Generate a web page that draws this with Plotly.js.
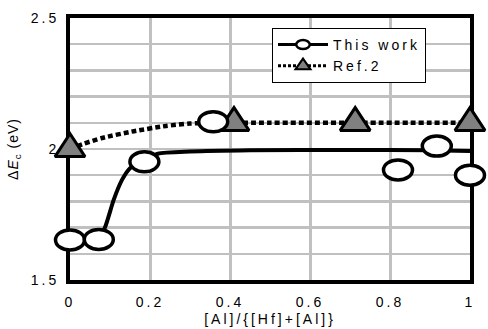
<!DOCTYPE html>
<html>
<head>
<meta charset="utf-8">
<script src="https://cdn.plot.ly/plotly-3.0.1.min.js"></script>
<style>
  html, body { margin: 0; padding: 0; background: #fff; }
  #chart { width: 488px; height: 329px; }
  svg text { letter-spacing: 3px; }
  svg text.ytitle { letter-spacing: 1px; }
</style>
</head>
<body>
<div id="chart"></div>
<script>
// ---- data ----
const xWork = [0, 0.072, 0.186, 0.358, 0.82, 0.917, 1.0];
const yWork = [1.653, 1.655, 1.951, 2.104, 1.92, 2.011, 1.90];
// fitted curve drawn through "This work"
const xWorkFit = [0, 0.07, 0.088, 0.109, 0.13, 0.15, 0.186, 0.22, 0.3, 0.45, 0.7, 0.9, 1.0];
const yWorkFit = [1.653, 1.655, 1.703, 1.805, 1.882, 1.927, 1.955, 1.982, 1.99, 1.995, 1.996, 1.995, 1.992];

const xRef = [0, 0.41, 0.713, 1.0];
const yRef = [2.0, 2.1, 2.1, 2.1];
// fitted curve drawn through "Ref.2"
const xRefFit = [0, 0.03, 0.08, 0.16, 0.24, 0.3, 0.36, 0.5, 0.7, 1.0];
const yRefFit = [2.0, 2.018, 2.042, 2.068, 2.088, 2.097, 2.1, 2.1, 2.1, 2.1];

const seriesNames = ['This work', 'Ref.2'];
const xTicks = [0, 0.2, 0.4, 0.6, 0.8, 1];
const xTickText = ['0', '0.2', '0.4', '0.6', '0.8', '1'];
const yTicks = [1.5, 2, 2.5];
const yTickText = ['1.5', '2', '2.5'];

const FONT = 'Liberation Sans, Arial, sans-serif';

const traces = [
  // legend-only entries
  { x: [null], y: [null], name: seriesNames[0], type: 'scatter', mode: 'lines+markers',
    line: { color: '#000', width: 3 },
    marker: { symbol: 'circle', size: 9, color: '#fff', line: { color: '#000', width: 2.5 } } },
  { x: [null], y: [null], name: seriesNames[1], type: 'scatter', mode: 'lines+markers',
    line: { color: '#000', width: 3, dash: '3px,2px' },
    marker: { symbol: 'triangle-up', size: 13, color: '#808080', line: { color: '#000', width: 2 } } },
  // Ref.2 curve + markers
  { x: xRefFit, y: yRefFit, type: 'scatter', mode: 'lines', showlegend: false, cliponaxis: false,
    line: { color: '#000', width: 4.5, dash: '5px,3px', shape: 'spline', smoothing: 0.6 }, hoverinfo: 'skip' },
  { x: xRef, y: yRef, type: 'scatter', mode: 'markers', showlegend: false, cliponaxis: false,
    marker: { symbol: 'triangle-up', size: 26, color: '#808080', line: { color: '#000', width: 3 } } },
  // This work curve + markers
  { x: xWorkFit, y: yWorkFit, type: 'scatter', mode: 'lines', showlegend: false, cliponaxis: false,
    line: { color: '#000', width: 4, shape: 'spline', smoothing: 0.6 }, hoverinfo: 'skip' },
  { x: xWork, y: yWork, type: 'scatter', mode: 'markers', showlegend: false, cliponaxis: false,
    marker: { symbol: 'circle', size: 20, color: '#fff', line: { color: '#000', width: 3.5 } } }
];

const layout = {
  width: 488, height: 329,
  margin: { l: 70, r: 18, t: 18, b: 49 },
  paper_bgcolor: '#fff', plot_bgcolor: '#fff',
  font: { family: FONT, size: 14, color: '#000' },
  showlegend: true,
  legend: {
    x: 0.505, y: 0.962, xanchor: 'left', yanchor: 'top',
    bgcolor: '#fff', bordercolor: '#000', borderwidth: 1,
    font: { family: FONT, size: 14, color: '#000' },
    tracegroupgap: 0, itemwidth: 50
  },
  xaxis: {
    range: [0, 1], tickvals: xTicks, ticktext: xTickText,
    showgrid: true, gridcolor: '#c0c0c0', gridwidth: 3,
    showline: true, linecolor: '#000', linewidth: 4, mirror: true,
    zeroline: false, ticks: '', ticklabelstandoff: 6,
    layer: 'below traces',
    title: { text: '[Al]/{[Hf]+[Al]}', font: { family: FONT, size: 14 }, standoff: 6 },
    automargin: false, fixedrange: true
  },
  yaxis: {
    range: [1.5, 2.5], tickvals: yTicks, ticktext: yTickText,
    showgrid: true, gridcolor: '#c0c0c0', gridwidth: 2.5,
    minor: { dtick: 0.1, showgrid: true, gridcolor: '#c0c0c0', gridwidth: 2.5 },
    showline: true, linecolor: '#000', linewidth: 4, mirror: true,
    zeroline: false, ticks: '', ticklabelstandoff: 4,
    layer: 'below traces',
    title: { text: 'Δ<i>E</i><sub>c</sub> (eV)', font: { family: FONT, size: 14 }, standoff: 10 },
    automargin: false, fixedrange: true
  }
};

Plotly.newPlot('chart', traces, layout, { staticPlot: true }).then(function (gd) {
  // The reference draws the markers stretched (ellipses / wide triangles)
  const traceGroups = gd.querySelectorAll('.scatterlayer .trace');
  traceGroups.forEach(function (g, i) {
    const pts = g.querySelectorAll('path.point');
    let sx = 1, sy = 1;
    if (i === 3) { sx = 1; sy = 1.17; }
    if (i === 5) { sx = 1.45; sy = 1; }
    if (sx === 1 && sy === 1) return;
    pts.forEach(function (p) {
      const t = p.getAttribute('transform') || '';
      p.setAttribute('transform', t + ' scale(' + sx + ',' + sy + ')');
      p.style.vectorEffect = 'non-scaling-stroke';
    });
  });
  const legPts = gd.querySelectorAll('.legend .traces');
  legPts.forEach(function (g, i) {
    g.querySelectorAll('.legendpoints path.scatterpts').forEach(function (p) {
      const t = p.getAttribute('transform') || '';
      if (i === 0) p.setAttribute('transform', t + ' scale(1.5,1)');
      else p.setAttribute('transform', t + ' scale(1,1.1)');
      p.style.vectorEffect = 'non-scaling-stroke';
    });
  });
});
</script>
</body>
</html>
